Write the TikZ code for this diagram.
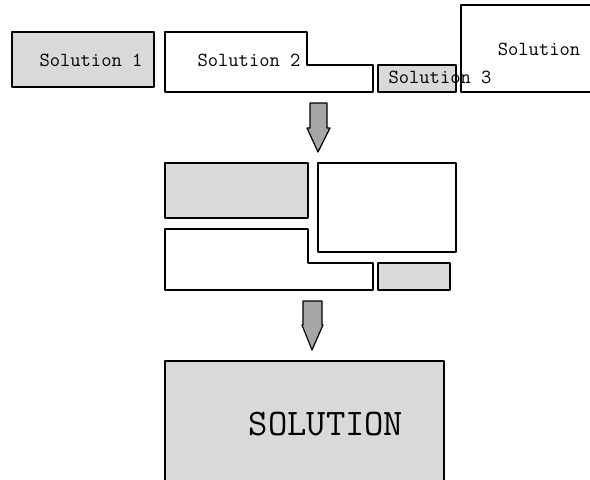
\documentclass[tikz,border=0pt]{standalone}
\usepackage{fontspec}
\definecolor{abumuda}{HTML}{D9D9D9}
\definecolor{abutua}{HTML}{A6A6A6}
\begin{document}
\begin{tikzpicture}[x=1pt, y=-1pt, line width=1.2pt, line join=round,
      potong/.style={draw, fill=abumuda},
      kosong/.style={draw, fill=white},
      panah/.style={draw, fill=abutua},
      teks/.style={font=\ttfamily\fontsize{20}{23}\selectfont, inner sep=0pt},
      teksbesar/.style={font=\ttfamily\fontsize{37.5}{42}\selectfont, inner sep=0pt}]
    \useasboundingbox (0,0) rectangle (590,480);
    \clip (0,0) rectangle (590,480);
    % potongan solusi
    \draw[potong] (12,32) rectangle (154,87);
    \draw[kosong] (165,32) -- (307,32) -- (307,65) -- (373,65) -- (373,92) -- (165,92) -- cycle;
    \draw[potong] (378,65) rectangle (456,92);
    \draw[kosong] (461,5) rectangle (600,92);
    \node[teks] (sol1) at (91,60) {Solution 1};
    \node[teks] (sol2) at (249,60) {Solution 2};
    \node[teks] (sol3) at (440,77) {Solution 3};
    \node[teks] (sol4) at (539,49) {Solution};
    % panah pertama
    \draw[panah] (310,103) -- (327,103) -- (327,128) -- (330,128) -- (318,152) -- (307,128) -- (310,128) -- cycle;
    % gabungan
    \draw[potong] (165,163) rectangle (308,218);
    \draw[kosong] (318,163) rectangle (456,252);
    \draw[kosong] (165,229) -- (308,229) -- (308,263) -- (373,263) -- (373,290) -- (165,290) -- cycle;
    \draw[potong] (378,263) rectangle (450,290);
    % panah kedua
    \draw[panah] (303,301) -- (322,301) -- (322,325) -- (323,325) -- (312,350) -- (302,325) -- (303,325) -- cycle;
    % hasil akhir
    \draw[potong] (165,361) rectangle (444,490);
    \node[teksbesar] (hasil) at (326,424) {SOLUTION};
  \end{tikzpicture}
\end{document}
